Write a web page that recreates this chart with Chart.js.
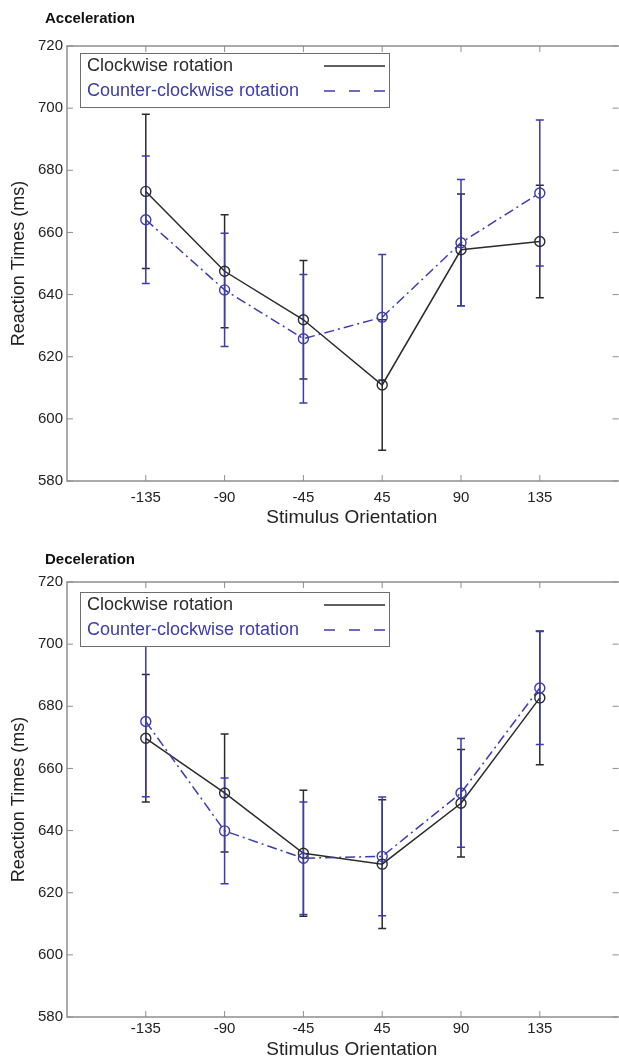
<!DOCTYPE html>
<html>
<head>
<meta charset="utf-8">
<script src="https://cdn.jsdelivr.net/npm/chart.js@4.4.1/dist/chart.umd.min.js"></script>
<style>
  html, body { margin: 0; padding: 0; background: #fff; overflow: hidden; }
  body { width: 619px; height: 1062px; position: relative; }
  .clip { position: absolute; left: 0; top: 0; width: 619px; height: 1062px; overflow: hidden; }
  .clip canvas { position: absolute; left: 0; display: block; }
  .ptitle { position: absolute; left: 45px; z-index: 2; font: bold 15px "Liberation Sans", Arial, sans-serif; color: #111; }
</style>
</head>
<body>
<div class="clip">
  <canvas id="accChart" width="625" height="531" style="top:0;width:625px;height:531px"></canvas>
  <canvas id="decChart" width="625" height="527" style="top:535px;width:625px;height:527px"></canvas>
</div>
<div class="ptitle" style="top:9px">Acceleration</div>
<div class="ptitle" style="top:550px">Deceleration</div>
<script>
// Stimulus orientations (categories) placed at x = 1..6
const orientations = ["-135", "-90", "-45", "45", "90", "135"];
const positions = [1, 2, 3, 4, 5, 6];
const seriesNames = ["Clockwise rotation", "Counter-clockwise rotation"];

// Acceleration (ms), mean and half error bar
const cwAcc = [673.2, 647.5, 631.9, 610.9, 654.4, 657.1];
const cwAccErr = [24.8, 18.2, 19.1, 21.0, 18.0, 18.1];
const ccwAcc = [664.1, 641.5, 625.8, 632.7, 656.7, 672.7];
const ccwAccErr = [20.5, 18.2, 20.7, 20.2, 20.3, 23.5];

// Deceleration (ms)
const cwDec = [669.7, 652.1, 632.7, 629.2, 648.8, 682.7];
const cwDecErr = [20.5, 19.0, 20.3, 20.7, 17.3, 21.5];
const ccwDec = [675.1, 639.9, 631.1, 631.7, 652.1, 685.9];
const ccwDecErr = [24.2, 17.0, 18.1, 19.1, 17.5, 18.2];

const yTicks = [580, 600, 620, 640, 660, 680, 700, 720];
const xTitle = "Stimulus Orientation";
const yTitle = "Reaction Times (ms)";

const BLACK = "#2b2b2b";
const BLUE = "#3c3cae";
const AXIS = "#8e8e8e";
const FONT = "'Liberation Sans', Arial, sans-serif";

// frame (left, top, bottom) with inward ticks; right edge is cut off in the figure
const framePlugin = {
  id: "frame",
  beforeDatasetsDraw(chart) {
    const { ctx, chartArea: ca, scales } = chart;
    ctx.save();
    ctx.strokeStyle = AXIS;
    ctx.lineWidth = 1.5;
    ctx.beginPath();
    ctx.moveTo(ca.right, ca.top); ctx.lineTo(ca.left, ca.top);
    ctx.lineTo(ca.left, ca.bottom); ctx.lineTo(ca.right, ca.bottom);
    ctx.stroke();
    ctx.lineWidth = 1;
    ctx.beginPath();
    positions.forEach(p => {
      const x = scales.x.getPixelForValue(p);
      ctx.moveTo(x, ca.bottom); ctx.lineTo(x, ca.bottom - 6);
      ctx.moveTo(x, ca.top); ctx.lineTo(x, ca.top + 6);
    });
    yTicks.forEach(v => {
      const y = scales.y.getPixelForValue(v);
      ctx.moveTo(ca.left, y); ctx.lineTo(ca.left + 6, y);
      ctx.moveTo(ca.right, y); ctx.lineTo(ca.right - 6, y);
    });
    ctx.stroke();
    ctx.restore();
  },
  afterDraw(chart, args, opts) {
    // x axis title, sitting a little right of the axes centre as in the figure
    const { ctx, chartArea: ca } = chart;
    ctx.save();
    ctx.fillStyle = "#222";
    ctx.font = "19px " + FONT;
    ctx.textAlign = "center";
    ctx.textBaseline = "middle";
    ctx.fillText(xTitle, (ca.left + ca.right) / 2 + 9, ca.bottom + opts.titleOffset);
    ctx.restore();
  }
};

// vertical error bars with caps
const errorBarPlugin = {
  id: "errorBars",
  beforeDatasetsDraw(chart) {
    const { ctx, scales } = chart;
    ctx.save();
    ctx.lineWidth = 1.5;
    // draw last dataset (clockwise) first so blue sits on top
    for (let d = chart.data.datasets.length - 1; d >= 0; d--) {
      const ds = chart.data.datasets[d];
      ctx.strokeStyle = ds.borderColor;
      ctx.beginPath();
      ds.data.forEach((pt, i) => {
        const e = ds.errors[i];
        const x = scales.x.getPixelForValue(pt.x);
        const yHi = scales.y.getPixelForValue(pt.y + e);
        const yLo = scales.y.getPixelForValue(pt.y - e);
        ctx.moveTo(x, yHi); ctx.lineTo(x, yLo);
        ctx.moveTo(x - 4, yHi); ctx.lineTo(x + 4, yHi);
        ctx.moveTo(x - 4, yLo); ctx.lineTo(x + 4, yLo);
      });
      ctx.stroke();
    }
    ctx.restore();
  }
};

// boxed legend with line samples to the right of the text
const boxLegendPlugin = {
  id: "boxLegend",
  afterDraw(chart, args, opts) {
    const { ctx, chartArea: ca } = chart;
    const left = ca.left + 13, top = ca.top + opts.offsetTop;
    const w = 309, h = 54;
    ctx.save();
    ctx.fillStyle = "#fff";
    ctx.fillRect(left, top, w, h);
    ctx.strokeStyle = "#6e6e6e";
    ctx.lineWidth = 1;
    ctx.strokeRect(left + 0.5, top + 0.5, w, h);
    ctx.font = "18px " + FONT;
    ctx.textBaseline = "middle";
    const rows = [
      { name: seriesNames[0], color: BLACK, dash: [] },
      { name: seriesNames[1], color: BLUE, dash: [11, 14] }
    ];
    rows.forEach((r, i) => {
      const y = top + 13 + i * 25;
      ctx.fillStyle = r.color;
      ctx.fillText(r.name, left + 7, y);
      ctx.strokeStyle = r.color;
      ctx.lineWidth = 1.5;
      ctx.setLineDash(r.dash);
      ctx.beginPath();
      ctx.moveTo(left + 244, y); ctx.lineTo(left + 305, y);
      ctx.stroke();
      ctx.setLineDash([]);
    });
    ctx.restore();
  }
};

function toPoints(values) {
  return values.map((v, i) => ({ x: positions[i], y: v }));
}

function renderPanel(canvasId, cw, cwErr, ccw, ccwErr, cfg) {
  const ctx = document.getElementById(canvasId).getContext("2d");
  new Chart(ctx, {
    type: "line",
    data: {
      datasets: [
        {
          label: seriesNames[1],
          data: toPoints(ccw),
          errors: ccwErr,
          borderColor: BLUE,
          borderWidth: 1.5,
          borderDash: [10, 4, 2, 4],
          pointRadius: 5,
          pointBorderWidth: 1.4,
          pointBorderColor: BLUE,
          pointBackgroundColor: "rgba(0,0,0,0)",
          tension: 0
        },
        {
          label: seriesNames[0],
          data: toPoints(cw),
          errors: cwErr,
          borderColor: BLACK,
          borderWidth: 1.5,
          pointRadius: 5,
          pointBorderWidth: 1.4,
          pointBorderColor: BLACK,
          pointBackgroundColor: "rgba(0,0,0,0)",
          tension: 0
        }
      ]
    },
    options: {
      responsive: false,
      animation: false,
      devicePixelRatio: 1,
      layout: { padding: { top: cfg.padTop, right: 3, left: 0, bottom: 0 } },
      scales: {
        x: {
          type: "linear",
          min: 0,
          max: 7,
          grid: { display: false, drawTicks: false },
          border: { display: false },
          afterBuildTicks: scale => { scale.ticks = positions.map(v => ({ value: v })); },
          afterFit: scale => { scale.height = cfg.xHeight; },
          ticks: {
            padding: cfg.xTickPad,
            color: "#222",
            font: { family: FONT, size: 15 },
            maxRotation: 0,
            callback: v => orientations[positions.indexOf(v)]
          },
          title: { display: false }
        },
        y: {
          min: 580,
          max: 720,
          grid: { display: false, drawTicks: false },
          border: { display: false },
          afterFit: scale => { scale.width = 67; },
          ticks: {
            stepSize: 20,
            padding: 4,
            color: "#222",
            font: { family: FONT, size: 15 }
          },
          title: {
            display: true,
            text: yTitle,
            color: "#222",
            font: { family: FONT, size: 18 },
            padding: { top: 8, bottom: 0 }
          }
        }
      },
      plugins: {
        legend: { display: false },
        tooltip: { enabled: false },
        boxLegend: { offsetTop: cfg.legendTop },
        frame: { titleOffset: cfg.titleOffset }
      }
    },
    plugins: [framePlugin, errorBarPlugin, boxLegendPlugin]
  });
}

renderPanel("accChart", cwAcc, cwAccErr, ccwAcc, ccwAccErr,
  { padTop: 46, xHeight: 50, xTickPad: 8, titleOffset: 37, legendTop: 7 });
renderPanel("decChart", cwDec, cwDecErr, ccwDec, ccwDecErr,
  { padTop: 47, xHeight: 45, xTickPad: 3, titleOffset: 33, legendTop: 10 });
</script>
</body>
</html>
